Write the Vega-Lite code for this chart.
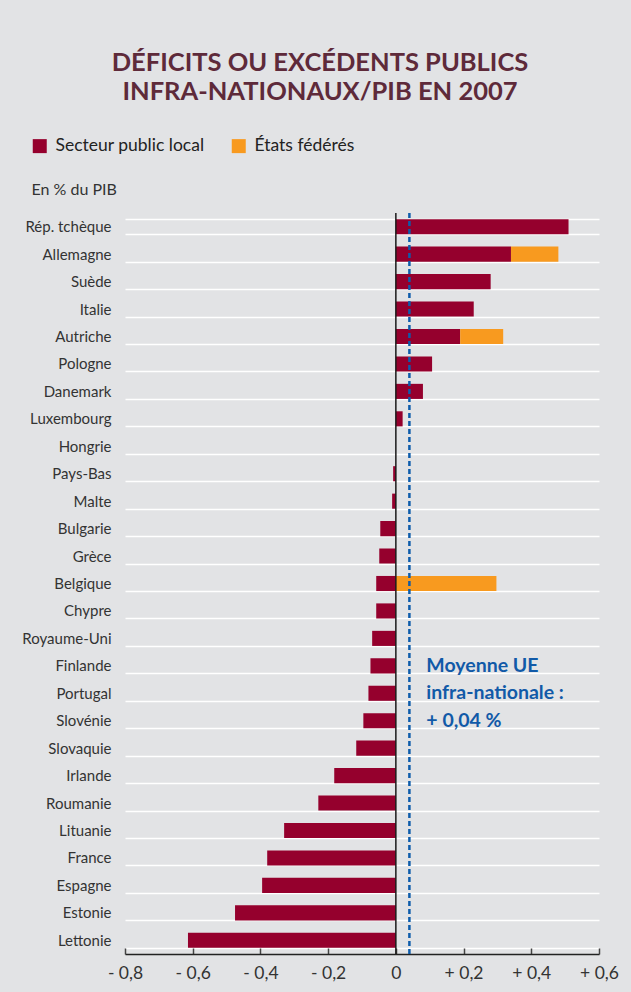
{
  "$schema": "https://vega.github.io/schema/vega-lite/v6.json",
  "autosize": "none",
  "padding": {"left": 125, "top": 213, "right": 32, "bottom": 38},
  "width": 474,
  "height": 741,
  "background": "#e2e3e5",
  "config": {
    "view": {"stroke": null},
    "font": "Lato"
  },
  "title": {
    "text": ["DÉFICITS OU EXCÉDENTS PUBLICS", "INFRA-NATIONAUX/PIB EN 2007"],
    "anchor": "middle",
    "frame": "group",
    "dx": -42,
    "offset": 32,
    "fontSize": 25.5,
    "lineHeight": 29,
    "font": "Lato",
    "fontWeight": "bold",
    "color": "#5e2a3a"
  },
  "datasets": {
    "bars": [
      {"pays": "Rép. tchèque", "secteur": "Secteur public local", "valeur": 0.51},
      {"pays": "Allemagne", "secteur": "Secteur public local", "valeur": 0.34},
      {"pays": "Allemagne", "secteur": "États fédérés", "valeur": 0.14},
      {"pays": "Suède", "secteur": "Secteur public local", "valeur": 0.28},
      {"pays": "Italie", "secteur": "Secteur public local", "valeur": 0.23},
      {"pays": "Autriche", "secteur": "Secteur public local", "valeur": 0.19},
      {"pays": "Autriche", "secteur": "États fédérés", "valeur": 0.127},
      {"pays": "Pologne", "secteur": "Secteur public local", "valeur": 0.107},
      {"pays": "Danemark", "secteur": "Secteur public local", "valeur": 0.08},
      {"pays": "Luxembourg", "secteur": "Secteur public local", "valeur": 0.02},
      {"pays": "Hongrie", "secteur": "Secteur public local", "valeur": 0},
      {"pays": "Pays-Bas", "secteur": "Secteur public local", "valeur": -0.008},
      {"pays": "Malte", "secteur": "Secteur public local", "valeur": -0.011},
      {"pays": "Bulgarie", "secteur": "Secteur public local", "valeur": -0.046},
      {"pays": "Grèce", "secteur": "Secteur public local", "valeur": -0.049},
      {"pays": "Belgique", "secteur": "Secteur public local", "valeur": -0.058},
      {"pays": "Belgique", "secteur": "États fédérés", "valeur": 0.297},
      {"pays": "Chypre", "secteur": "Secteur public local", "valeur": -0.058},
      {"pays": "Royaume-Uni", "secteur": "Secteur public local", "valeur": -0.07},
      {"pays": "Finlande", "secteur": "Secteur public local", "valeur": -0.075},
      {"pays": "Portugal", "secteur": "Secteur public local", "valeur": -0.081},
      {"pays": "Slovénie", "secteur": "Secteur public local", "valeur": -0.096},
      {"pays": "Slovaquie", "secteur": "Secteur public local", "valeur": -0.117},
      {"pays": "Irlande", "secteur": "Secteur public local", "valeur": -0.182},
      {"pays": "Roumanie", "secteur": "Secteur public local", "valeur": -0.229},
      {"pays": "Lituanie", "secteur": "Secteur public local", "valeur": -0.33},
      {"pays": "France", "secteur": "Secteur public local", "valeur": -0.38},
      {"pays": "Espagne", "secteur": "Secteur public local", "valeur": -0.395},
      {"pays": "Estonie", "secteur": "Secteur public local", "valeur": -0.475},
      {"pays": "Lettonie", "secteur": "Secteur public local", "valeur": -0.614}
    ],
    "notes": [
      {"pays": "Finlande", "texte": "Moyenne UE"},
      {"pays": "Portugal", "texte": "infra-nationale :"},
      {"pays": "Slovénie", "texte": "+ 0,04 %"}
    ],
    "moyenne": [{"moyenne": 0.04}]
  },
  "layer": [
    {
      "data": {"name": "bars"},
      "mark": {"type": "bar"},
      "encoding": {
        "y": {
          "field": "pays",
          "type": "nominal",
          "sort": ["Rép. tchèque", "Allemagne", "Suède", "Italie", "Autriche", "Pologne", "Danemark", "Luxembourg", "Hongrie", "Pays-Bas", "Malte", "Bulgarie", "Grèce", "Belgique", "Chypre", "Royaume-Uni", "Finlande", "Portugal", "Slovénie", "Slovaquie", "Irlande", "Roumanie", "Lituanie", "France", "Espagne", "Estonie", "Lettonie"],
          "scale": {"paddingInner": 0.45, "paddingOuter": 0.225},
          "axis": {
            "title": "En % du PIB",
            "titleAngle": 0,
            "titleX": -94,
            "titleY": -24,
            "titleAlign": "left",
            "titleBaseline": "middle",
            "titleFontSize": 16,
            "titleFontWeight": "normal",
            "titleColor": "#333333",
            "titleFont": "Lato",
            "labelFontSize": 15,
            "labelColor": "#333333",
            "labelFont": "Lato",
            "labelPadding": 14,
            "ticks": false,
            "domain": false,
            "grid": true,
            "tickBand": "extent",
            "gridColor": "#ffffff",
            "gridWidth": 1.5,
            "gridOpacity": 1
          }
        },
        "x": {
          "field": "valeur",
          "type": "quantitative",
          "stack": "zero",
          "scale": {"domain": [-0.8, 0.6], "nice": false, "zero": false},
          "axis": {
            "title": null,
            "values": [-0.8, -0.6, -0.4, -0.2, 0, 0.2, 0.4, 0.6],
            "labelExpr": "datum.value == 0 ? '0' : (datum.value > 0 ? '+ ' : '- ') + replace(format(abs(datum.value), '.1f'), '.', ',')",
            "grid": false,
            "domainColor": "#222222",
            "domainWidth": 1.5,
            "tickColor": "#444444",
            "tickWidth": 1.5,
            "tickSize": -6,
            "labelPadding": 16,
            "labelFontSize": 17.5,
            "labelColor": "#333333",
            "labelFont": "Lato",
            "labelFlush": false
          }
        },
        "color": {
          "field": "secteur",
          "type": "nominal",
          "scale": {"domain": ["Secteur public local", "États fédérés"], "range": ["#95002d", "#f89a1f"]},
          "legend": {
            "title": null,
            "orient": "none",
            "legendX": -94,
            "legendY": -76,
            "direction": "horizontal",
            "symbolType": "square",
            "symbolSize": 196,
            "symbolStrokeWidth": 0,
            "symbolOpacity": 1,
            "labelFontSize": 17.5,
            "labelColor": "#222222",
            "labelFont": "Lato",
            "labelOffset": 7,
            "columnPadding": 25,
            "padding": 0
          }
        },
        "order": {"field": "secteur", "sort": "ascending"}
      }
    },
    {
      "data": {"name": "moyenne"},
      "mark": {"type": "rule", "color": "#1a1a1a", "strokeWidth": 1.5},
      "encoding": {"x": {"datum": 0}}
    },
    {
      "data": {"name": "moyenne"},
      "mark": {"type": "rule", "color": "#0d5cab", "strokeWidth": 2.5, "strokeDash": [5, 3]},
      "encoding": {"x": {"field": "moyenne", "type": "quantitative"}}
    },
    {
      "data": {"name": "notes"},
      "mark": {"type": "text", "align": "left", "baseline": "middle", "font": "Lato", "fontSize": 19.5, "fontWeight": "bold", "color": "#115aa8"},
      "encoding": {
        "y": {
          "field": "pays",
          "type": "nominal",
          "sort": ["Rép. tchèque", "Allemagne", "Suède", "Italie", "Autriche", "Pologne", "Danemark", "Luxembourg", "Hongrie", "Pays-Bas", "Malte", "Bulgarie", "Grèce", "Belgique", "Chypre", "Royaume-Uni", "Finlande", "Portugal", "Slovénie", "Slovaquie", "Irlande", "Roumanie", "Lituanie", "France", "Espagne", "Estonie", "Lettonie"]
        },
        "x": {"datum": 0.09},
        "text": {"field": "texte"}
      }
    }
  ]
}
